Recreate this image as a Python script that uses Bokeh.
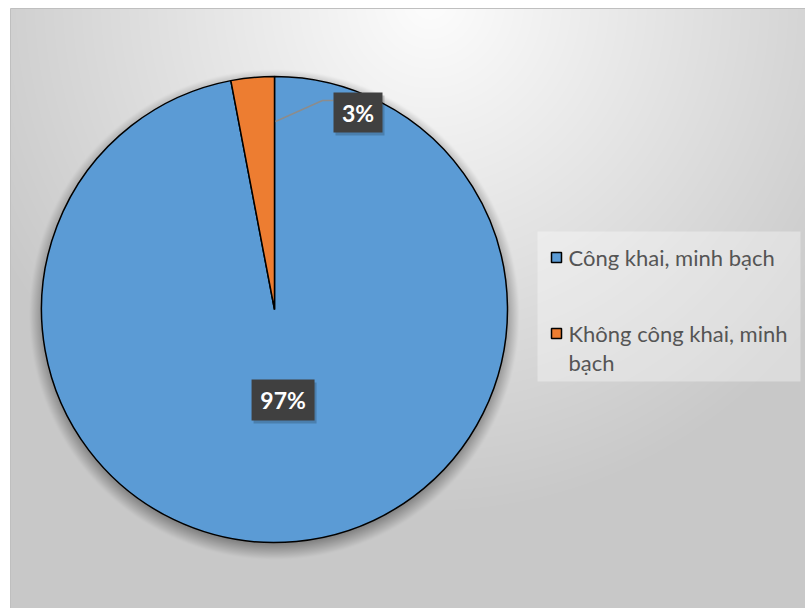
import numpy as np
from bokeh.plotting import figure
from bokeh.models import Range1d
from bokeh.embed import file_html
from bokeh.resources import INLINE
from bokeh.core.properties import value

# ---- data ----
categories = ["Công khai, minh bạch", "Không công khai, minh bạch"]
legend_lines = [["Công khai, minh bạch"], ["Không công khai, minh", "bạch"]]
shares = [97, 3]
labels = ["97%", "3%"]
colors = ["#5B9BD5", "#ED7D31"]

# ---- layout / style ----
W, H = 805, 608
CX, CY, R = 274, 608 - 309, 233
FONT = value("Lato")

p = figure(width=W, height=H, x_range=Range1d(0, W), y_range=Range1d(0, H),
           output_backend="svg", toolbar_location=None, min_border=0)
p.axis.visible = False
p.grid.visible = False
p.outline_line_color = None
p.background_fill_color = "white"
p.border_fill_color = "white"

# background gradient with soft pie shadow
bx0, by_top = 10, 8
bw, bh = W - bx0, H - by_top
xs = np.arange(bw) + bx0 + 0.5
rows = np.arange(bh)
py = H - (rows + 0.5)  # pixel y for each image row (row 0 at bottom)
X, PY = np.meshgrid(xs, py)
d = np.sqrt(((X - 430) / 500.0) ** 2 + ((PY - 0) / 520.0) ** 2)
v = 253 - 53 * np.clip(d, 0, 1.0)
rr = np.sqrt((X - CX) ** 2 + (PY - (309 + 5)) ** 2)
sh = 0.35 * np.clip((R + 12 - rr) / 16.0, 0, 1)
v = v * (1 - sh)
img = np.zeros((bh, bw), dtype=np.uint32)
view = img.view(dtype=np.uint8).reshape((bh, bw, 4))
vv = np.clip(v, 0, 255).astype(np.uint8)
view[:, :, 0] = vv
view[:, :, 1] = vv
view[:, :, 2] = vv
view[:, :, 3] = 255
p.image_rgba(image=[img], x=bx0, y=0, dw=bw, dh=bh)
p.quad(left=bx0, right=W, bottom=0, top=H - by_top, fill_color=None,
       line_color="#bfbfbf", line_width=1)

# pie
total = float(sum(shares))
cum = np.cumsum([0] + shares) / total
starts = [np.pi / 2 - 2 * np.pi * cum[i] for i in range(len(shares))]
ends = [np.pi / 2 - 2 * np.pi * cum[i + 1] for i in range(len(shares))]
p.wedge(x=CX, y=CY, radius=R, start_angle=starts, end_angle=ends,
        direction="clock", fill_color=colors, line_color="black", line_width=1.5)

# data labels
mid0 = (starts[0] + ends[0]) / 2
lx0 = CX + 0.39 * R * np.cos(mid0)
ly0 = CY + 0.39 * R * np.sin(mid0)
lx1, ly1 = 357.5, 608 - 112
boxes = [(lx0, ly0, 63, 41), (lx1, ly1, 49, 40)]
# leader line for small slice
p.line(x=[CX + 1, 322, 333], y=[608 - 121, 608 - 100, 608 - 100],
       line_color="#8c8c8c", line_width=1.5)
for (bx, by, w, h) in boxes:
    p.rect(x=bx + 2, y=by - 3, width=w, height=h, fill_color="black",
           fill_alpha=0.18, line_color=None)
    p.rect(x=bx, y=by, width=w, height=h, fill_color="#404040", line_color=None)
p.text(x=[b[0] for b in boxes], y=[b[1] for b in boxes], text=labels,
       text_font=FONT, text_font_style="bold", text_font_size="23px",
       text_color="white", text_align="center", text_baseline="middle")

# legend
p.quad(left=537, right=800, bottom=608 - 381, top=608 - 231,
       fill_color="white", fill_alpha=0.35, line_color=None)
item_y = [608 - 257, 608 - 333]
p.rect(x=[556] * 2, y=item_y, width=10, height=10, fill_color=colors,
       line_color="black", line_width=1.5)
tx, ty, tt = [], [], []
for iy, lines in zip(item_y, legend_lines):
    for k, ln in enumerate(lines):
        tx.append(568)
        ty.append(iy - 29 * k)
        tt.append(ln)
p.text(x=tx, y=ty, text=tt, text_font=FONT, text_font_size="22px",
       text_color="#555555", text_align="left", text_baseline="middle")

open("out.html", "w").write(file_html(p, INLINE))
